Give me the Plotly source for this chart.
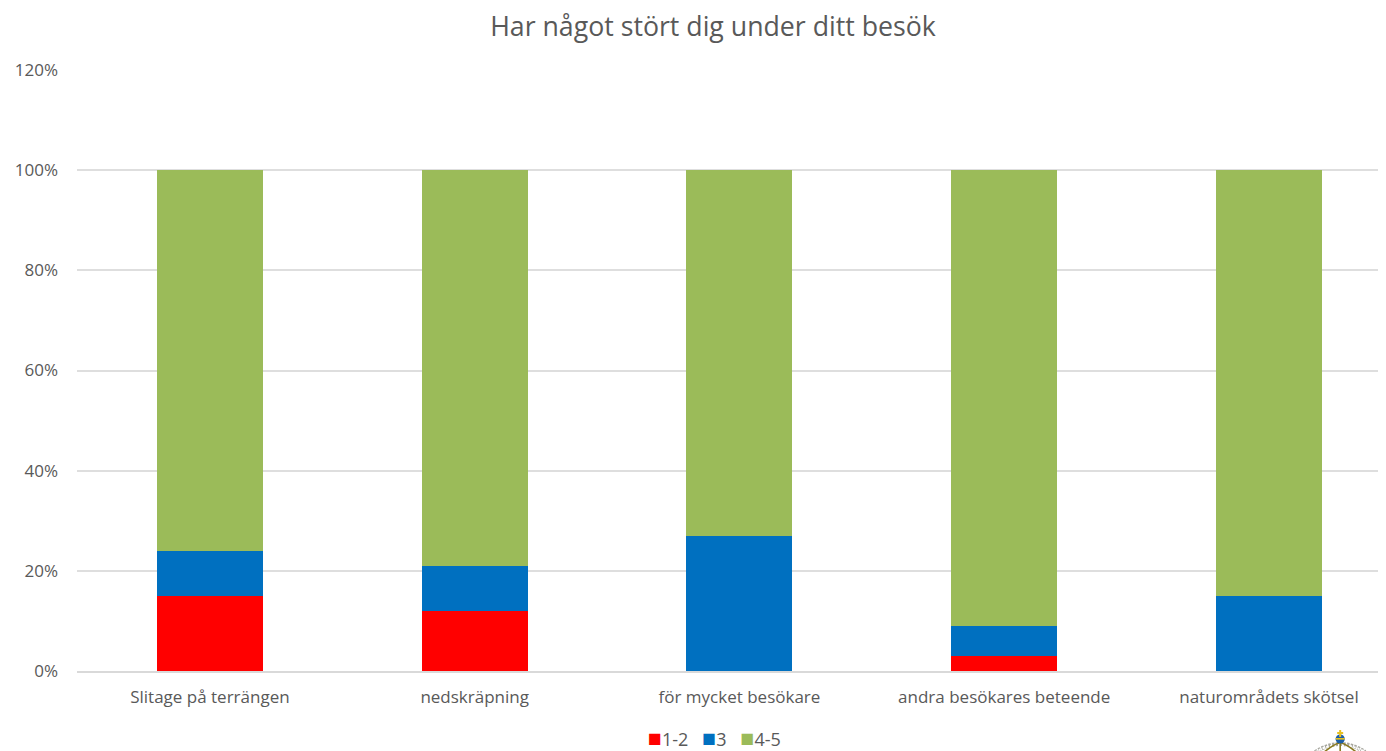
import base64
import plotly.graph_objects as go

categories = ["Slitage på terrängen", "nedskräpning", "för mycket besökare",
              "andra besökares beteende", "naturområdets skötsel"]
low = [15, 12, 0, 3, 0]
mid = [9, 9, 27, 6, 15]
high = [76, 79, 73, 91, 85]
names = ["1-2", "3", "4-5"]
colors = ["#FF0000", "#0070C0", "#9BBB59"]
title = "Har något stört dig under ditt besök"
FONT = "Open Sans"
GREY = "#595959"

# small crest cut off by the bottom edge of the page
crest_svg = """<svg xmlns="http://www.w3.org/2000/svg" width="60" height="26" viewBox="0 0 60 26">
<path d="M5 26 Q30 10 55 26" fill="none" stroke="#a8a8a0" stroke-width="4" stroke-dasharray="2.5 1.2"/>
<path d="M5 26 Q30 12 55 26" fill="none" stroke="#ffffff" stroke-width="2" stroke-dasharray="2 2"/>
<path d="M14 26 Q24 18 29 17 M46 26 Q36 18 31 17" fill="none" stroke="#8a7a20" stroke-width="1.6"/>
<path d="M30 17 V26" stroke="#8a7a20" stroke-width="1.6"/>
<circle cx="30" cy="13" r="4.6" fill="#1c5fa8"/>
<rect x="25.5" y="12" width="9" height="1.6" fill="#e8c020"/>
<rect x="29" y="4" width="2" height="7" fill="#e8c020"/>
<rect x="27" y="6" width="6" height="2" fill="#e8c020"/>
</svg>"""
crest_uri = "data:image/svg+xml;base64," + base64.b64encode(crest_svg.encode()).decode()

fig = go.Figure()
for name, vals, col in zip(names, [low, mid, high], colors):
    fig.add_trace(go.Bar(x=categories, y=vals, name=name, marker=dict(color=col, line_width=0),
                         width=0.4, showlegend=False))

legend_text = "&nbsp;&nbsp;".join(
    f'<span style="color:{c};font-size:23px">■</span>{n}&nbsp;' for n, c in zip(names, colors))
fig.add_annotation(text=legend_text, xref="paper", yref="paper", x=0.4893, y=-0.11,
                   xanchor="center", yanchor="middle", showarrow=False,
                   font=dict(family=FONT, size=18, color=GREY))

fig.add_layout_image(source=crest_uri, xref="paper", yref="paper", x=0.965, y=-0.0915,
                     sizex=0.0458, sizey=0.0433, xanchor="center", yanchor="top", sizing="stretch", layer="above")

fig.update_layout(
    width=1378, height=743, barmode="stack", bargap=0.6,
    margin=dict(l=69, r=0, t=62, b=80, autoexpand=False),
    paper_bgcolor="white", plot_bgcolor="white",
    font=dict(family=FONT, size=17, color=GREY),
    title=dict(text=title, x=0.5116, xanchor="center", y=0.975, yanchor="middle",
               font=dict(family=FONT, size=26.7, color=GREY)),
    xaxis=dict(range=[-0.502, 4.442], showgrid=False, showline=True, linecolor="#D9D9D9", linewidth=2,
               ticks="", ticklabelstandoff=10, tickfont=dict(size=17, color=GREY)),
    yaxis=dict(range=[0, 120], tickvals=[0, 20, 40, 60, 80, 100, 120],
               ticktext=["0%", "20%", "40%", "60%", "80%", "100%", "120%"],
               showgrid=True, gridcolor="#DEDEDE", gridwidth=2, zeroline=False, ticks="",
               ticklabelstandoff=18, tickfont=dict(size=17, color=GREY)),
)
fig.write_html("out.html")
